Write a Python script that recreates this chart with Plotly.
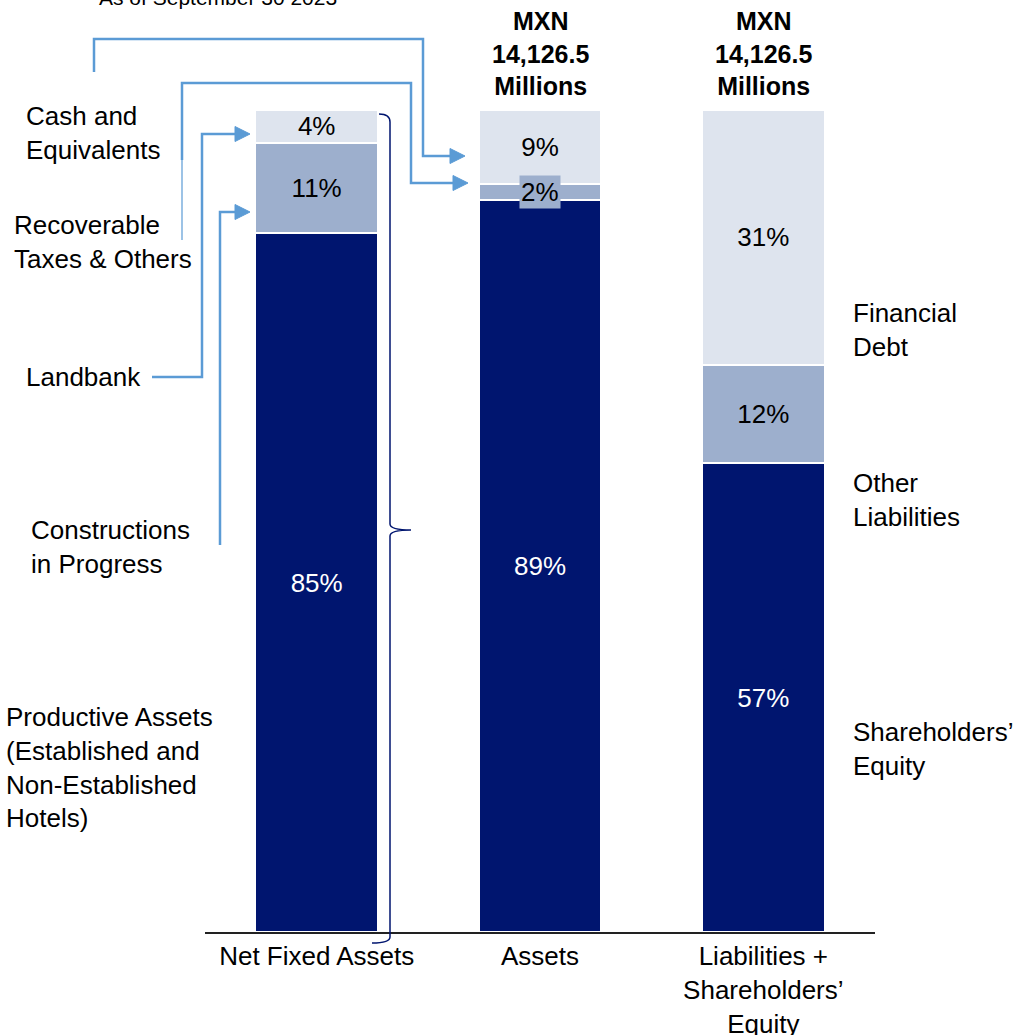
import plotly.graph_objects as go

# ---------------- data ----------------
categories = ["Net Fixed Assets", "Assets", "Liabilities +<br>Shareholders’<br>Equity"]
bottom_vals = [85, 89, 57]   # Productive assets / Assets main / Shareholders' equity
middle_vals = [11, 2, 12]    # Constructions / Recoverable taxes / Other liabilities
top_vals = [4, 9, 31]        # Landbank / Cash / Financial debt
header_text = "MXN<br>14,126.5<br>Millions"
title_text = "As of September 30 2023"

NAVY = "#00156F"
MID = "#9DAFCD"
LIGHT = "#DEE4EE"
BLUE = "#5B9BD5"
FONT = "Liberation Sans, Arial, sans-serif"
FS = 26

W, H = 1019, 1035
L, R, T, B = 205, 875, 110, 932


def px(x):
    return (x - L) / (R - L)


def py(y):
    return (B - y) / (B - T)


def pct(v):
    return [f"{x}%" for x in v]


fig = go.Figure()
fig.add_trace(go.Bar(x=categories, y=bottom_vals, marker=dict(color=NAVY, line=dict(color="white", width=2)),
                     text=pct(bottom_vals), textposition="inside", insidetextanchor="middle",
                     textfont=dict(color="white", size=FS, family=FONT), constraintext="none"))
fig.add_trace(go.Bar(x=categories, y=middle_vals, marker=dict(color=MID, line=dict(color="white", width=2)),
                     text=[f"{v}%" if v >= 5 else "" for v in middle_vals], textposition="inside",
                     insidetextanchor="middle",
                     textfont=dict(color="black", size=FS, family=FONT), constraintext="none"))
fig.add_trace(go.Bar(x=categories, y=top_vals, marker=dict(color=LIGHT, line=dict(color="white", width=2)),
                     text=pct(top_vals), textposition="inside", insidetextanchor="middle",
                     textfont=dict(color="black", size=FS, family=FONT), constraintext="none"))

# small segment label with background box (data driven)
for i, v in enumerate(middle_vals):
    if v < 5:
        fig.add_annotation(x=categories[i], y=bottom_vals[i] + v / 2, xref="x", yref="y",
                           text=f"{v}%", showarrow=False, bgcolor=MID, borderpad=1,
                           font=dict(size=FS, color="black", family=FONT))

# headers over bars 2 and 3
for c in categories[1:]:
    fig.add_annotation(x=c, xref="x", y=py(53), yref="paper", text=f"<b>{header_text}</b>",
                       showarrow=False, yanchor="middle",
                       font=dict(size=FS - 1, color="black", family=FONT))

# title (partially clipped at top)
fig.add_annotation(x=px(97), y=py(-2), xref="paper", yref="paper", text=title_text, showarrow=False,
                   xanchor="left", yanchor="middle", font=dict(size=21, color="black", family=FONT))

# left/right labels
labels = [
    ("Cash and<br>Equivalents", 24, 133),
    ("Recoverable<br>Taxes & Others", 12, 242),
    ("Landbank", 24, 377),
    ("Constructions<br>in Progress", 29, 547),
    ("Productive Assets<br>(Established and<br>Non-Established<br>Hotels)", 4, 767),
    ("Financial<br>Debt", 851, 330),
    ("Other<br>Liabilities", 851, 500),
    ("Shareholders’<br>Equity", 851, 749),
]
for t, x, y in labels:
    fig.add_annotation(x=px(x), y=py(y), xref="paper", yref="paper", text=t, showarrow=False,
                       xanchor="left", yanchor="middle", align="left",
                       font=dict(size=FS, color="black", family=FONT))


def line_path(pts):
    return "M " + " L ".join(f"{px(a)},{py(b)}" for a, b in pts)


def add_line(pts, width=2.5):
    fig.add_shape(type="path", path=line_path(pts), xref="paper", yref="paper",
                  line=dict(color=BLUE, width=width), layer="above")


def add_arrowhead(tipx, tipy, length=15, half=7.5):
    path = (f"M {px(tipx)},{py(tipy)} L {px(tipx - length)},{py(tipy - half)} "
            f"L {px(tipx - length)},{py(tipy + half)} Z")
    fig.add_shape(type="path", path=path, xref="paper", yref="paper",
                  line=dict(color=BLUE, width=1), fillcolor=BLUE, layer="above")


# Cash -> Assets cash segment
add_line([(94, 72), (94, 39), (423, 39), (423, 156), (452, 156)])
add_arrowhead(465, 156)
# Recoverable taxes -> Assets 2% segment
add_line([(182, 160), (182, 83), (411, 83), (411, 183), (455, 183)])
add_line([(182, 240), (182, 160)], width=1.2)
add_arrowhead(468, 183)
# Landbank -> 4%
add_line([(152, 377), (202, 377), (202, 134), (237, 134)])
add_arrowhead(250, 134)
# Constructions -> 11%
add_line([(220, 545), (220, 212), (237, 212)])
add_arrowhead(250, 212)

# brace next to first bar
brace = (f"M {px(379)},{py(114)} Q {px(390)},{py(114)} {px(390)},{py(122)} "
         f"L {px(390)},{py(524)} Q {px(390)},{py(530)} {px(411)},{py(530)} "
         f"Q {px(390)},{py(530)} {px(390)},{py(536)} "
         f"L {px(390)},{py(937)} Q {px(390)},{py(943)} {px(372)},{py(943)}")
fig.add_shape(type="path", path=brace, xref="paper", yref="paper",
              line=dict(color=NAVY, width=1.5), layer="above")

fig.update_layout(
    width=W, height=H, barmode="stack", bargap=0.45, showlegend=False,
    margin=dict(l=L, r=W - R, t=T, b=H - B, pad=0, autoexpand=False),
    paper_bgcolor="white", plot_bgcolor="white",
    font=dict(family=FONT, size=FS, color="black"),
    xaxis=dict(showline=True, linecolor="#222222", linewidth=1.5, ticks="", showgrid=False,
               automargin=False,
               tickfont=dict(size=FS, color="black", family=FONT), range=[-0.5, 2.5]),
    yaxis=dict(range=[0, 100], visible=False, showgrid=False, automargin=False),
)

fig.write_html("out.html", config={"displayModeBar": False},
               post_script="document.body.style.margin='0px';document.body.style.overflow='hidden';")
